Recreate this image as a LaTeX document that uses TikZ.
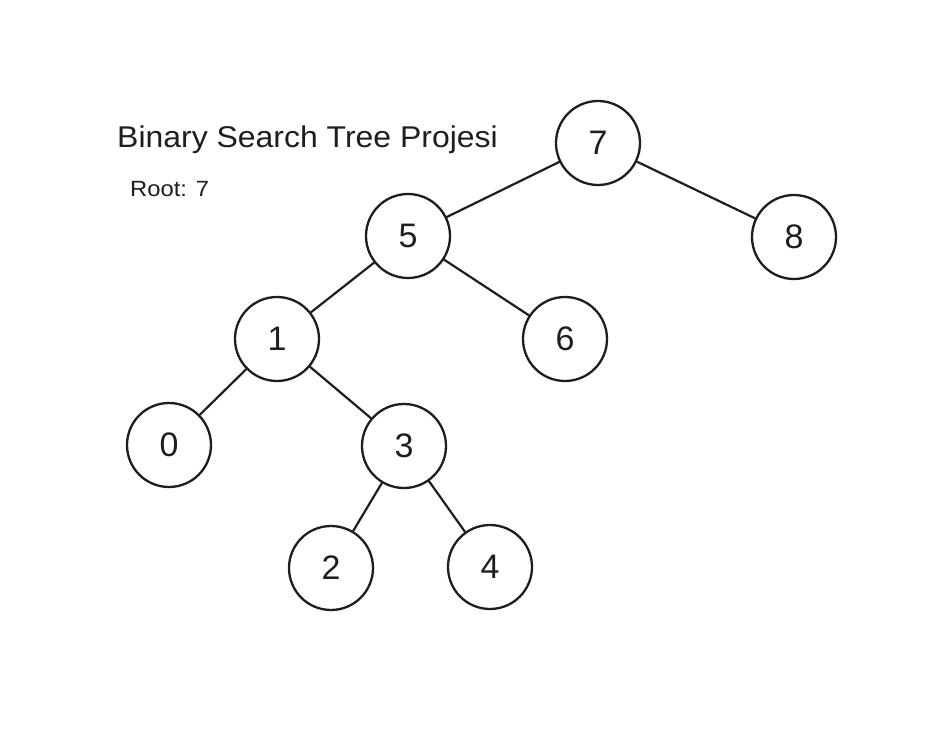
\documentclass[tikz,border=0pt]{standalone}
\usepackage{fontspec}
\setmainfont{Liberation Sans}
\definecolor{ink}{HTML}{1E1E1E}
\begin{document}
\begin{tikzpicture}[x=1pt,y=-1pt,
  tnode/.style={circle,draw=ink,line width=2.3pt,minimum size=84pt,inner sep=0pt,
    font=\fontsize{34}{38}\selectfont,text=ink},
  edge/.style={draw=ink,line width=2.2pt,line cap=round},
  lbl/.style={inner sep=0pt,text=ink}]
\useasboundingbox[fill=white] (0,0) rectangle (937,751);
\node[tnode] (n7) at (598,143) {7};
\node[tnode] (n5) at (408,236) {5};
\node[tnode] (n8) at (794,237) {8};
\node[tnode] (n1) at (277,339) {1};
\node[tnode] (n6) at (565,339) {6};
\node[tnode] (n0) at (169,445) {0};
\node[tnode] (n3) at (404,446) {3};
\node[tnode] (n2) at (331,568) {2};
\node[tnode] (n4) at (490,567) {4};
\draw[edge] (n7) -- (n5);
\draw[edge] (n7) -- (n8);
\draw[edge] (n5) -- (n1);
\draw[edge] (n5) -- (n6);
\draw[edge] (n1) -- (n0);
\draw[edge] (n1) -- (n3);
\draw[edge] (n3) -- (n2);
\draw[edge] (n3) -- (n4);
\node[lbl,anchor=base west,font=\fontsize{30}{34}\selectfont] (title) at (117,148) {\scalebox{1.065}[1]{Binary Search Tree Projesi}};
\node[lbl,anchor=base west,font=\fontsize{22}{26}\selectfont] (root) at (130,197) {\scalebox{1.08}[1]{Root: 7}};
\end{tikzpicture}
\end{document}
